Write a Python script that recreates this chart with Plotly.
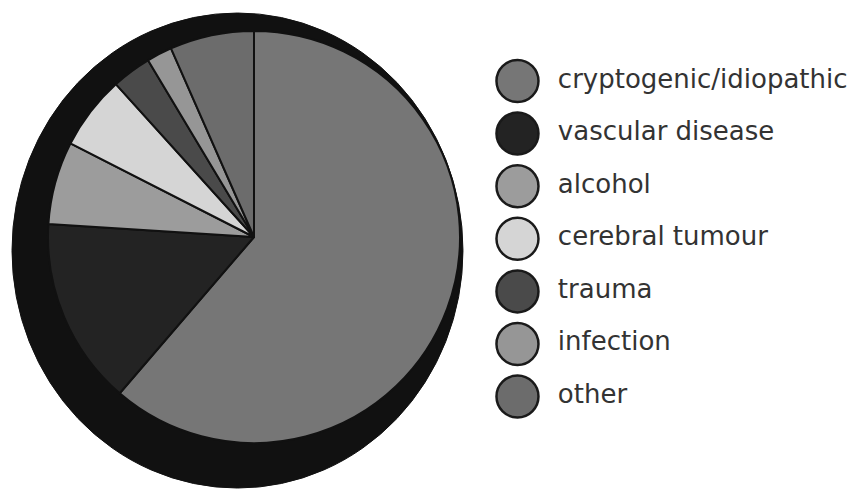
import plotly.graph_objects as go

# Data (percent of cases)
causes = ['cryptogenic/idiopathic', 'vascular disease', 'alcohol', 'cerebral tumour',
          'trauma', 'infection', 'other']
shares = [61.3, 14.7, 6.5, 5.8, 3.1, 2.0, 6.6]
slice_colors = ['#767676', '#232323', '#9c9c9c', '#d5d5d5', '#4a4a4a', '#969696', '#6c6c6c']

FONT = 'DejaVu Sans, Verdana, sans-serif'
# the page body adds an 8px margin, so the figure is a bit smaller than the window
W, H = 849, 481

fig = go.Figure()

# pie
fig.add_trace(go.Pie(
    labels=causes,
    values=shares,
    sort=False,
    direction='clockwise',
    rotation=0,
    textinfo='none',
    marker=dict(colors=slice_colors, line=dict(color='#111111', width=2)),
    domain=dict(x=[0.0471, 0.5324], y=[0.0956, 0.9522]),
    showlegend=False,
    hovertemplate='%{label}: %{value}%<extra></extra>',
))

# legend drawn as a column of big circles with labels
rows = list(range(len(causes)))
fig.add_trace(go.Scatter(
    x=[0] * len(causes), y=rows,
    mode='markers',
    marker=dict(size=42, color=slice_colors, line=dict(color='#1a1a1a', width=2.5)),
    hoverinfo='skip',
    showlegend=False,
))
fig.add_trace(go.Scatter(
    x=[0] * len(causes), y=rows,
    mode='markers+text',
    text=causes,
    textposition='middle right',
    textfont=dict(family=FONT, size=26, color='#333333'),
    marker=dict(size=63, color='rgba(0,0,0,0)'),
    hoverinfo='skip',
    showlegend=False,
))

fig.update_layout(
    width=W, height=H,
    margin=dict(l=0, r=0, t=0, b=0),
    paper_bgcolor='white',
    plot_bgcolor='white',
    font=dict(family=FONT),
    xaxis=dict(domain=[0.5, 1.0], range=[-1, 3.995], visible=False, fixedrange=True),
    yaxis=dict(domain=[0, 1], range=[7.757, -1.388], visible=False, fixedrange=True),
    # dark "thickness" of the pie behind it
    shapes=[dict(
        type='circle', xref='paper', yref='paper', layer='below',
        x0=0.0047, x1=0.5359, y0=0.002, y1=0.9896,
        fillcolor='#111111', line=dict(color='#111111', width=1),
    )],
)

fig.write_html('out.html')
